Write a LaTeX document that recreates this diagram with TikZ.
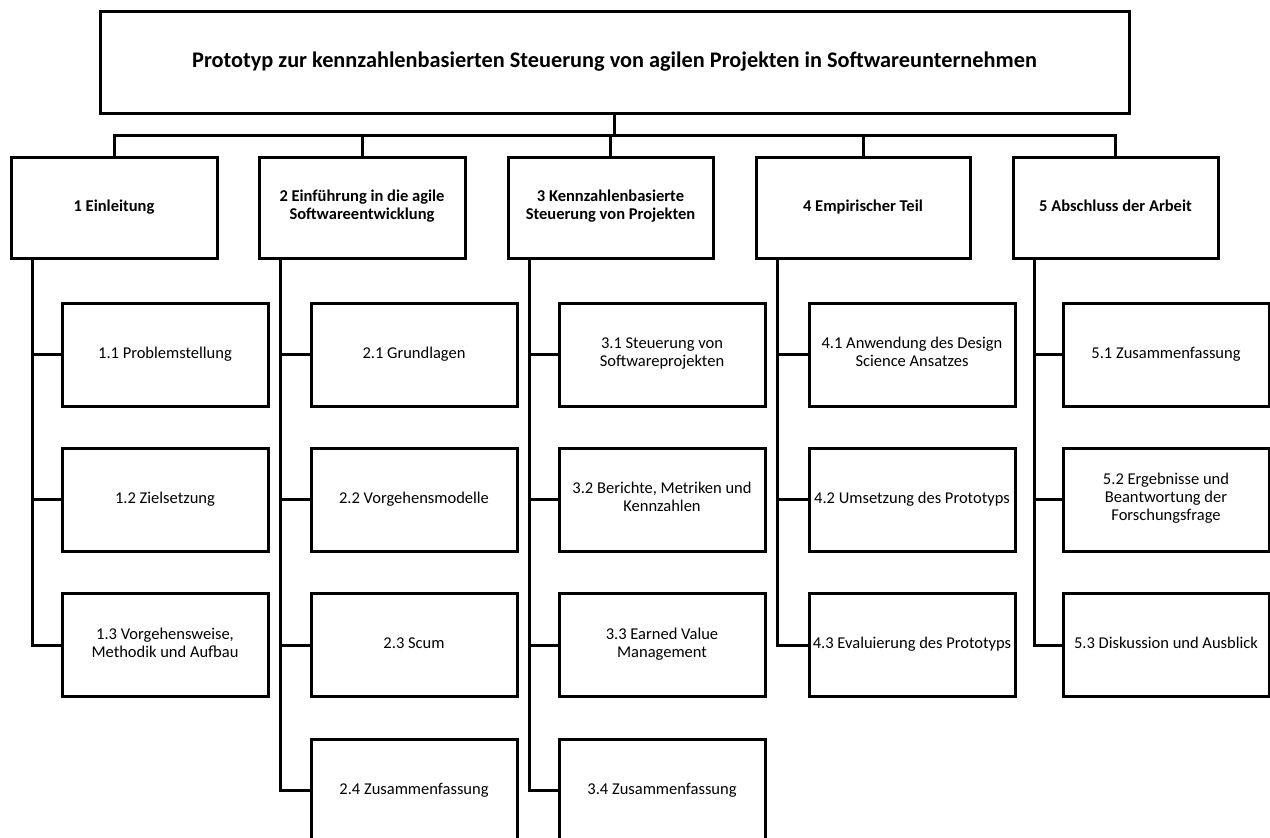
\documentclass[tikz,border=0pt]{standalone}
\usepackage{fontspec}
\setmainfont{Carlito}
\begin{document}
\begin{tikzpicture}[x=1pt,y=-1pt,
  box/.style={draw=black, line width=3pt, fill=white, inner sep=0pt, outer sep=0pt,
    align=center, text=black, font=\fontsize{16.5}{18}\selectfont,
    execute at begin node=\strut, execute at end node=\strut},
  titlebox/.style={box, minimum width=1029pt, minimum height=102pt,
    font=\fontsize{22.3}{26}\selectfont\bfseries},
  chapbox/.style={box, minimum height=101pt, font=\fontsize{16.5}{18}\selectfont\bfseries},
  secbox/.style={box, minimum width=206pt, minimum height=103pt},
  link/.style={line width=3pt, line cap=rect}
]
\clip (0,0) rectangle (1270,838);
\fill[white] (0,0) rectangle (1270,838);

% root
\node[titlebox] (top) at (614.5,62) {Prototyp zur kennzahlenbasierten Steuerung von agilen Projekten in Softwareunternehmen};

% chapters
\node[chapbox, minimum width=206pt] (l1) at (114,207.5) {1 Einleitung};
\node[chapbox, minimum width=206pt] (l2) at (362,207.5) {2 Einführung in die agile\\Softwareentwicklung};
\node[chapbox, minimum width=205pt] (l3) at (610.5,207.5) {3 Kennzahlenbasierte\\Steuerung von Projekten};
\node[chapbox, minimum width=214pt] (l4) at (863,207.5) {4 Empirischer Teil};
\node[chapbox, minimum width=205pt] (l5) at (1115.5,207.5) {5 Abschluss der Arbeit};

% sections
\node[secbox] (c11) at (165,354.5) {1.1 Problemstellung};
\node[secbox] (c12) at (165,499.5) {1.2 Zielsetzung};
\node[secbox] (c13) at (165,645) {1.3 Vorgehensweise,\\Methodik und Aufbau};

\node[secbox] (c21) at (414,354.5) {2.1 Grundlagen};
\node[secbox] (c22) at (414,499.5) {2.2 Vorgehensmodelle};
\node[secbox] (c23) at (414,645) {2.3 Scum};
\node[secbox] (c24) at (414,790.5) {2.4 Zusammenfassung};

\node[secbox] (c31) at (662,354.5) {3.1 Steuerung von\\Softwareprojekten};
\node[secbox] (c32) at (662,499.5) {3.2 Berichte, Metriken und\\Kennzahlen};
\node[secbox] (c33) at (662,645) {3.3 Earned Value\\Management};
\node[secbox] (c34) at (662,790.5) {3.4 Zusammenfassung};

\node[secbox] (c41) at (912,354.5) {4.1 Anwendung des Design\\Science Ansatzes};
\node[secbox] (c42) at (912,499.5) {4.2 Umsetzung des Prototyps};
\node[secbox] (c43) at (912,645) {4.3 Evaluierung des Prototyps};

\node[secbox] (c51) at (1166,354.5) {5.1 Zusammenfassung};
\node[secbox] (c52) at (1166,499.5) {5.2 Ergebnisse und\\Beantwortung der\\Forschungsfrage};
\node[secbox] (c53) at (1166,645) {5.3 Diskussion und Ausblick};

% bus between root and chapters
\coordinate (bus) at (0,135);
\draw[link] (top.south) -- (top.south |- bus);
\draw[link] (l1.north) |- (l5.north |- bus) -- (l5.north);
\foreach \n in {l2,l3,l4} \draw[link] (\n.north) -- (\n.north |- bus);

% spines of each chapter
\coordinate (s1) at ([xshift=21pt]l1.south west);
\coordinate (s2) at ([xshift=21pt]l2.south west);
\coordinate (s3) at ([xshift=21pt]l3.south west);
\coordinate (s4) at ([xshift=21pt]l4.south west);
\coordinate (s5) at ([xshift=21pt]l5.south west);

\draw[link] (s1) |- (c13.west);
\foreach \c in {c11,c12} \draw[link] (\c.west) -- (\c.west -| s1);
\draw[link] (s2) |- (c24.west);
\foreach \c in {c21,c22,c23} \draw[link] (\c.west) -- (\c.west -| s2);
\draw[link] (s3) |- (c34.west);
\foreach \c in {c31,c32,c33} \draw[link] (\c.west) -- (\c.west -| s3);
\draw[link] (s4) |- (c43.west);
\foreach \c in {c41,c42} \draw[link] (\c.west) -- (\c.west -| s4);
\draw[link] (s5) |- (c53.west);
\foreach \c in {c51,c52} \draw[link] (\c.west) -- (\c.west -| s5);
\end{tikzpicture}
\end{document}
